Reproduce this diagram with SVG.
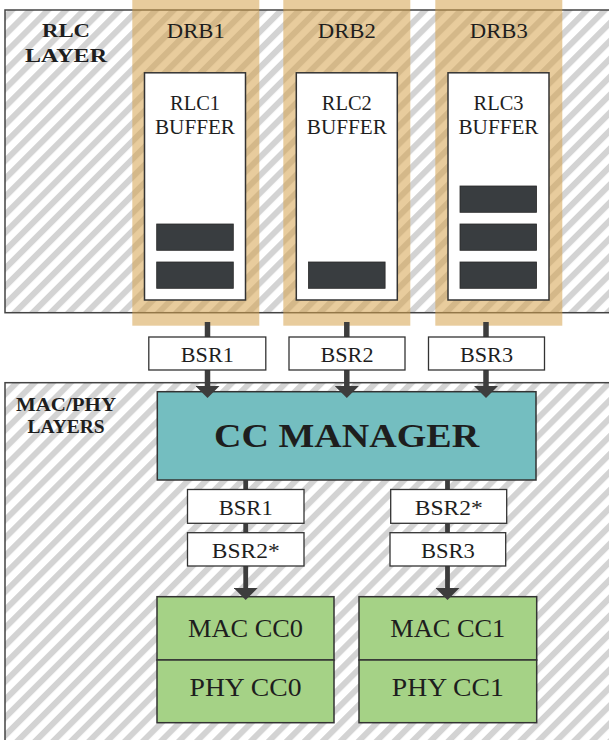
<svg xmlns="http://www.w3.org/2000/svg" width="609" height="740" viewBox="0 0 609 740">
  <defs>
    <pattern id="hatch" patternUnits="userSpaceOnUse" width="12.7" height="12.7" patternTransform="rotate(45)">
      <rect x="0" y="0" width="12.7" height="12.7" fill="#ffffff"/>
      <rect x="0" y="0" width="6" height="12.7" fill="#d3d3d3"/>
    </pattern>
    <marker id="arrow" markerUnits="userSpaceOnUse" viewBox="0 0 12 24" refX="0" refY="12" markerWidth="12" markerHeight="24" orient="auto">
      <path d="M0,0 L12,12 L0,24 z" fill="#3d3d3d"/>
    </marker>
    <style>
      .layer { fill: url(#hatch); stroke: #444444; stroke-width: 1.5; }
      .drb { fill: #d6a24d; fill-opacity: 0.55; }
      .buffer { fill: #ffffff; stroke: #333333; stroke-width: 1.5; }
      .pkt { fill: #393d40; stroke: #2a2a2a; stroke-width: 0.8; }
      .bsr { fill: #ffffff; stroke: #333333; stroke-width: 1.3; }
      .mgr { fill: #74bec0; stroke: #333333; stroke-width: 1.5; }
      .cc { fill: #a5d286; stroke: #333333; stroke-width: 1.5; }
      .conn { stroke: #3d3d3d; fill: none; }
      text { fill: #1e1e1e; text-anchor: middle; font-family: "Liberation Serif", "DejaVu Serif", serif; }
      .lbl { font-size: 19px; font-weight: bold; }
      .drbt { font-size: 22px; }
      .buft { font-size: 20px; }
      .bsrt { font-size: 22px; }
      .mgrt { font-size: 33px; font-weight: bold; }
      .cct { font-size: 25px; }
    </style>
  </defs>

  <g id="rlc-layer">
    <rect class="layer" x="5" y="10" width="620" height="302.7"/>
    <text class="lbl" x="66" y="37" textLength="48" lengthAdjust="spacingAndGlyphs">RLC</text>
    <text class="lbl" x="66" y="62" textLength="82" lengthAdjust="spacingAndGlyphs">LAYER</text>
  </g>

  <g id="macphy-layer">
    <rect class="layer" x="5" y="382.7" width="620" height="380"/>
    <text class="lbl" x="66" y="411" textLength="100" lengthAdjust="spacingAndGlyphs">MAC/PHY</text>
    <text class="lbl" x="66" y="433" textLength="77" lengthAdjust="spacingAndGlyphs">LAYERS</text>
  </g>

  <g id="drb1">
    <rect class="drb" x="132.3" y="0" width="127" height="325.7"/>
    <text class="drbt" x="195.8" y="38" textLength="58" lengthAdjust="spacingAndGlyphs">DRB1</text>
  </g>
  <g id="drb2">
    <rect class="drb" x="283.3" y="0" width="127" height="325.7"/>
    <text class="drbt" x="346.8" y="38" textLength="58" lengthAdjust="spacingAndGlyphs">DRB2</text>
  </g>
  <g id="drb3">
    <rect class="drb" x="435.3" y="0" width="127" height="325.7"/>
    <text class="drbt" x="498.8" y="38" textLength="58" lengthAdjust="spacingAndGlyphs">DRB3</text>
  </g>

  <g id="rlc1-buffer">
    <rect class="buffer" x="144.5" y="72.8" width="101" height="227.2"/>
    <text class="buft" x="195" y="110" textLength="50" lengthAdjust="spacingAndGlyphs">RLC1</text>
    <text class="buft" x="195" y="134" textLength="80" lengthAdjust="spacingAndGlyphs">BUFFER</text>
    <rect class="pkt" x="156.7" y="224" width="76.6" height="26.3"/>
    <rect class="pkt" x="156.7" y="262" width="76.6" height="26.3"/>
  </g>
  <g id="rlc2-buffer">
    <rect class="buffer" x="296.3" y="72.8" width="101" height="227.2"/>
    <text class="buft" x="346.8" y="110" textLength="50" lengthAdjust="spacingAndGlyphs">RLC2</text>
    <text class="buft" x="346.8" y="134" textLength="80" lengthAdjust="spacingAndGlyphs">BUFFER</text>
    <rect class="pkt" x="308.5" y="262" width="76.6" height="26.3"/>
  </g>
  <g id="rlc3-buffer">
    <rect class="buffer" x="448" y="72.8" width="101" height="227.2"/>
    <text class="buft" x="498.5" y="110" textLength="50" lengthAdjust="spacingAndGlyphs">RLC3</text>
    <text class="buft" x="498.5" y="134" textLength="80" lengthAdjust="spacingAndGlyphs">BUFFER</text>
    <rect class="pkt" x="460" y="186" width="76.6" height="26.3"/>
    <rect class="pkt" x="460" y="224" width="76.6" height="26.3"/>
    <rect class="pkt" x="460" y="262" width="76.6" height="26.3"/>
  </g>

  <g id="cc-manager">
    <rect class="mgr" x="157.3" y="391.7" width="378.7" height="88.3"/>
    <text class="mgrt" x="346.6" y="447" textLength="265" lengthAdjust="spacingAndGlyphs">CC MANAGER</text>
  </g>

  <g id="cc0">
    <rect class="cc" x="157" y="596.7" width="177" height="63.3"/>
    <rect class="cc" x="157" y="660" width="177" height="62.7"/>
    <text class="cct" x="245.5" y="637" textLength="115" lengthAdjust="spacingAndGlyphs">MAC CC0</text>
    <text class="cct" x="245.5" y="696" textLength="112" lengthAdjust="spacingAndGlyphs">PHY CC0</text>
  </g>
  <g id="cc1">
    <rect class="cc" x="359" y="596.7" width="177.7" height="63.3"/>
    <rect class="cc" x="359" y="660" width="177.7" height="62.7"/>
    <text class="cct" x="447.8" y="637" textLength="115" lengthAdjust="spacingAndGlyphs">MAC CC1</text>
    <text class="cct" x="447.8" y="696" textLength="112" lengthAdjust="spacingAndGlyphs">PHY CC1</text>
  </g>

  <g id="connectors">
    <path class="conn" stroke-width="5.5" d="M207.5,322 L207.5,386" marker-end="url(#arrow)"/>
    <path class="conn" stroke-width="5.5" d="M346.8,322 L346.8,386" marker-end="url(#arrow)"/>
    <path class="conn" stroke-width="5.5" d="M486,322 L486,386" marker-end="url(#arrow)"/>
    <path class="conn" stroke-width="4.8" d="M245.7,480 L245.7,588" marker-end="url(#arrow)"/>
    <path class="conn" stroke-width="4.8" d="M447.5,480 L447.5,588" marker-end="url(#arrow)"/>
  </g>

  <g id="bsr1-up">
    <rect class="bsr" x="148.8" y="337" width="117" height="33"/>
    <text class="bsrt" x="207.3" y="362" textLength="53" lengthAdjust="spacingAndGlyphs">BSR1</text>
  </g>
  <g id="bsr2-up">
    <rect class="bsr" x="289" y="337" width="116" height="33"/>
    <text class="bsrt" x="347" y="362" textLength="53" lengthAdjust="spacingAndGlyphs">BSR2</text>
  </g>
  <g id="bsr3-up">
    <rect class="bsr" x="428.5" y="337" width="116" height="33"/>
    <text class="bsrt" x="486.5" y="362" textLength="53" lengthAdjust="spacingAndGlyphs">BSR3</text>
  </g>

  <g id="bsr1-cc0">
    <rect class="bsr" x="187.5" y="489.5" width="116.5" height="33.8"/>
    <text class="bsrt" x="245.7" y="515" textLength="54" lengthAdjust="spacingAndGlyphs">BSR1</text>
  </g>
  <g id="bsr2s-cc0">
    <rect class="bsr" x="187.5" y="532.7" width="116.5" height="33.3"/>
    <text class="bsrt" x="245.7" y="557.5" textLength="68" lengthAdjust="spacingAndGlyphs">BSR2*</text>
  </g>
  <g id="bsr2s-cc1">
    <rect class="bsr" x="390.7" y="489.5" width="116" height="33.8"/>
    <text class="bsrt" x="448.7" y="515" textLength="68" lengthAdjust="spacingAndGlyphs">BSR2*</text>
  </g>
  <g id="bsr3-cc1">
    <rect class="bsr" x="390" y="532.7" width="115.7" height="33.3"/>
    <text class="bsrt" x="447.9" y="557.5" textLength="54" lengthAdjust="spacingAndGlyphs">BSR3</text>
  </g>
</svg>
